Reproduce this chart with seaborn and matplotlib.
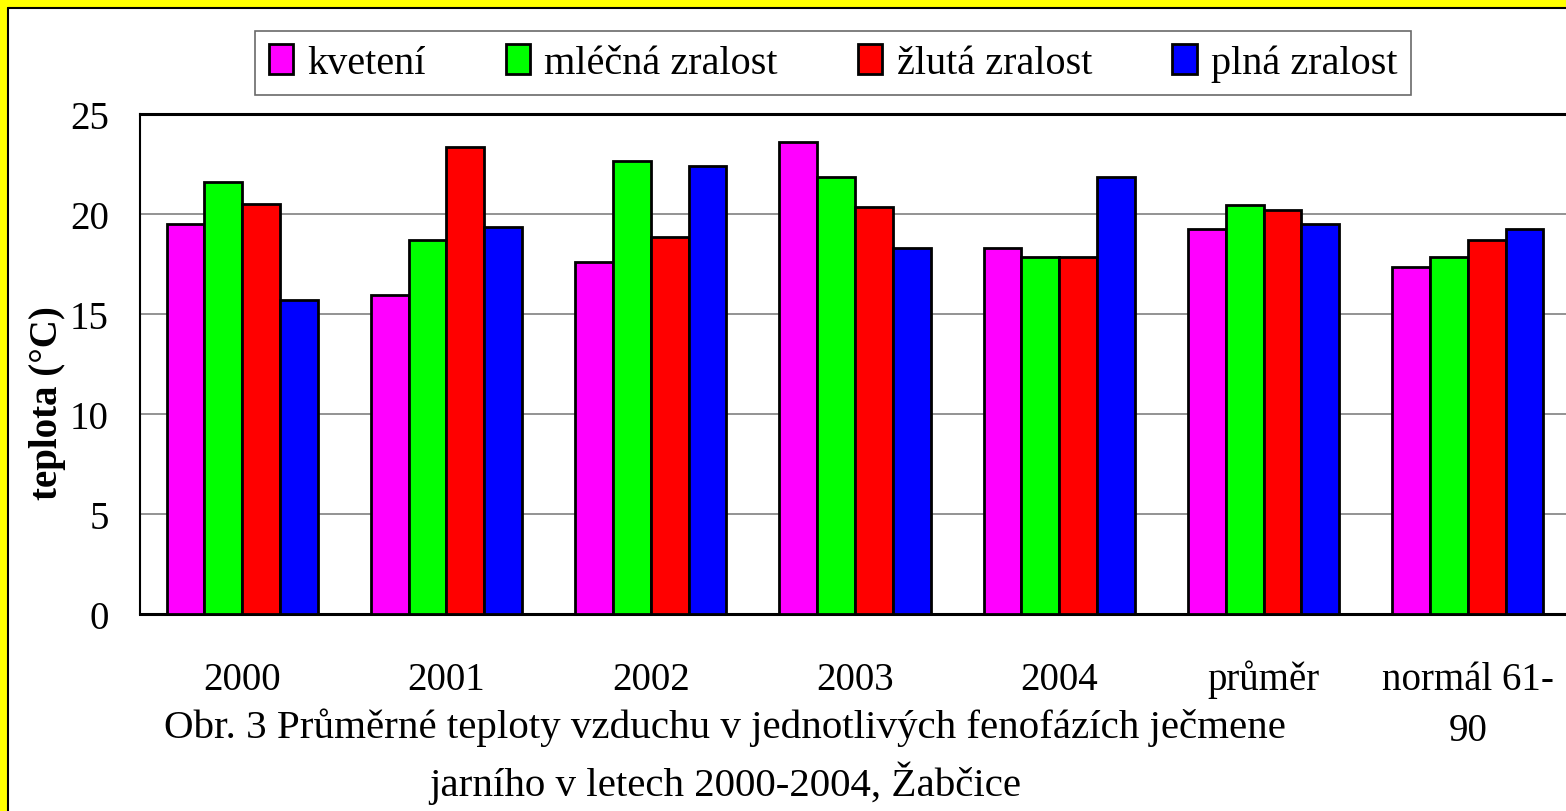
import matplotlib
matplotlib.use("Agg")
import matplotlib.pyplot as plt
import matplotlib.patches as mpatches
from matplotlib.lines import Line2D
from matplotlib.ticker import FixedLocator
import seaborn as sns
import pandas as pd

categories = ["2000", "2001", "2002", "2003", "2004", "průměr", "normál 61-\n90"]
phases = ["kvetení", "mléčná zralost", "žlutá zralost", "plná zralost"]
kveteni = [19.5, 15.97, 17.58, 23.58, 18.3, 19.25, 17.33]
mlecna = [21.58, 18.7, 22.65, 21.83, 17.87, 20.47, 17.87]
zluta = [20.5, 23.33, 18.83, 20.33, 17.87, 20.2, 18.7]
plna = [15.7, 19.37, 22.38, 18.3, 21.83, 19.5, 19.25]
colors = ["#FF00FF", "#00FF00", "#FF0000", "#0000FF"]
yticks = [0, 5, 10, 15, 20, 25]

series = [kveteni, mlecna, zluta, plna]
rows = []
for ph, vals in zip(phases, series):
    for c, v in zip(categories, vals):
        rows.append({"cat": c, "phase": ph, "val": v})
df = pd.DataFrame(rows)

sns.set_style("white")
plt.rcParams["font.family"] = ["Liberation Serif", "DejaVu Serif"]
plt.rcParams["text.color"] = "black"
plt.rcParams["xtick.color"] = "black"
plt.rcParams["ytick.color"] = "black"
plt.rcParams["axes.labelcolor"] = "black"

W, H = 1566, 812
fig = plt.figure(figsize=(W / 100, H / 100), dpi=100)
fig.patch.set_facecolor("white")
# yellow frame strips (left and top) with black border lines
fig.patches.append(mpatches.Rectangle((0, 0), 7.5 / W, 1, transform=fig.transFigure,
                                      facecolor="#FFFF00", edgecolor="none", zorder=-10))
fig.patches.append(mpatches.Rectangle((0, 1 - 8.5 / H), 1, 8.5 / H, transform=fig.transFigure,
                                      facecolor="#FFFF00", edgecolor="none", zorder=-10))
fig.lines.append(Line2D([8.2 / W, 8.2 / W], [0, 1 - 8.5 / H], transform=fig.transFigure,
                        color="black", linewidth=1.5))
fig.lines.append(Line2D([8.2 / W, 1], [1 - 9.2 / H, 1 - 9.2 / H], transform=fig.transFigure,
                        color="black", linewidth=1.5))

ax = fig.add_axes([140 / W, 1 - 615 / H, 1430 / W, 500 / H])
ax.set_facecolor("white")
sns.barplot(data=df, x="cat", y="val", hue="phase", order=categories, hue_order=phases,
            palette=colors, width=0.74, edgecolor="black", linewidth=2, saturation=1,
            legend=False, ax=ax, zorder=3)

ax.set_ylim(0, 25)
ax.set_xlim(-0.5, len(categories) - 0.5)
ax.set_yticks(yticks)
ax.set_yticklabels([str(t) for t in yticks], fontsize=28, color="black")
for y in yticks[1:-1]:
    ax.axhline(y, color="#808080", linewidth=1.2, zorder=1)

# tick labels: first line of each category name on the tick, wrapped remainder below it
first_lines = [c.split("\n")[0] for c in categories]
ax.set_xticks(range(len(categories)))
ax.set_xticklabels(first_lines, fontsize=28, color="black", va="baseline")
ax.tick_params(axis="x", which="major", length=0, pad=54)
for i, c in enumerate(categories):
    rest = c.split("\n")[1:]
    if rest:
        ax.text(i, (615 - 741) / 500, "\n".join(rest), transform=ax.get_xaxis_transform(),
                ha="center", va="baseline", fontsize=28, color="black")

ax.xaxis.set_minor_locator(FixedLocator([i - 0.5 for i in range(len(categories) + 1)]))
ax.tick_params(axis="x", which="minor", length=11, width=1, color="#555555", direction="out")
ax.tick_params(axis="y", which="major", length=8.5, width=1, color="#555555", direction="out", pad=14)

for s in ["top", "left", "bottom"]:
    ax.spines[s].set_visible(True)
    ax.spines[s].set_color("black")
ax.spines["top"].set_linewidth(2.2)
ax.spines["left"].set_linewidth(1.5)
ax.spines["bottom"].set_linewidth(2.2)
ax.spines["right"].set_visible(False)
ax.set_xlabel("")
ax.set_ylabel("")

fig.text(47 / W, 1 - 403 / H, "teplota (°C)", rotation=90, ha="center", va="center",
         fontsize=28, fontweight="bold", color="black")

fig.text(725 / W, 1 - 728 / H, "Obr. 3 Průměrné teploty vzduchu v jednotlivých fenofázích ječmene",
         ha="center", va="center", fontsize=29.5, color="black")
fig.text(725 / W, 1 - 783 / H, "jarního v letech 2000-2004, Žabčice",
         ha="center", va="center", fontsize=29.5, color="black")

handles = [mpatches.Patch(facecolor=c, edgecolor="black", linewidth=2) for c in colors]
leg = fig.legend(handles, phases, loc="center", bbox_to_anchor=(833 / W, 1 - 64 / H),
                 ncol=4, fontsize=29, frameon=True, fancybox=False, handlelength=0.6,
                 handleheight=0.75, handletextpad=0.35, columnspacing=2.0, borderpad=0.33,
                 borderaxespad=0)
for t in leg.get_texts():
    t.set_color("black")
leg.get_frame().set_edgecolor("#444444")
leg.get_frame().set_linewidth(1.2)

fig.savefig("out.png", dpi=100, facecolor=fig.get_facecolor())
